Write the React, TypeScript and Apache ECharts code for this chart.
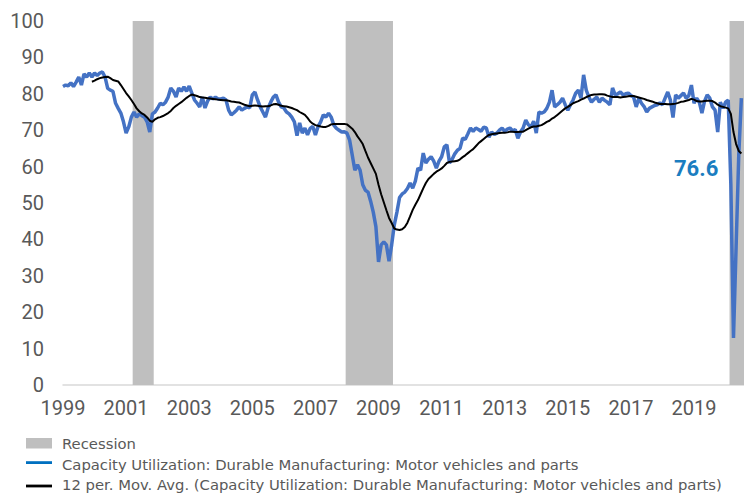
import React, { useEffect, useRef } from "react";
import * as echarts from "echarts";

// Monthly categories Jan 1999 .. Aug 2020
const firstYear = 1999;
const lastYear = 2020;
const lastMonthOfLastYear = 8;

// Capacity Utilization: Durable Manufacturing: Motor vehicles and parts (monthly, one row per year)
const capUtil: (number | null)[] = [
  82.0, 82.4, 82.2, 83.0, 82.0, 83.2, 84.6, 82.4, 85.5, 84.6, 85.7, 84.6, // 1999
  85.7, 85.0, 85.7, 86.0, 84.6, 81.5, 81.0, 80.7, 77.4, 76.0, 74.7, 72.3, // 2000
  69.2, 70.9, 73.6, 75.0, 73.6, 74.5, 74.0, 73.6, 72.3, 69.5, 74.5, 75.0, // 2001
  76.1, 77.4, 77.0, 77.7, 79.1, 81.6, 80.7, 79.1, 81.6, 80.7, 81.9, 80.7, // 2002
  82.1, 80.2, 78.3, 77.4, 76.4, 79.1, 76.1, 78.0, 79.1, 78.6, 79.1, 78.6, // 2003
  78.6, 78.8, 78.3, 75.5, 74.2, 74.8, 75.5, 76.4, 75.5, 76.0, 76.4, 76.1, // 2004
  79.7, 80.5, 78.3, 76.4, 75.0, 73.6, 76.1, 77.7, 79.1, 79.7, 77.7, 76.4, // 2005
  76.1, 75.0, 74.5, 73.6, 72.3, 68.5, 72.0, 69.2, 70.6, 68.7, 70.5, 71.0, // 2006
  68.7, 71.0, 72.3, 74.2, 73.6, 74.7, 73.6, 71.4, 70.5, 70.0, 69.5, 69.6, // 2007
  69.2, 67.3, 63.2, 59.0, 60.5, 59.0, 55.0, 53.5, 53.0, 50.5, 47.5, 43.5, // 2008
  33.8, 38.5, 39.3, 38.5, 34.0, 38.5, 44.0, 47.5, 51.5, 52.5, 53.0, 54.0, // 2009
  55.5, 54.1, 56.0, 59.6, 59.0, 63.7, 61.0, 62.0, 62.7, 61.5, 59.6, 61.5, // 2010
  62.7, 65.4, 66.0, 61.0, 62.0, 63.5, 64.5, 65.0, 67.8, 67.5, 69.0, 70.6, // 2011
  69.7, 70.6, 70.2, 69.7, 70.8, 70.6, 68.1, 69.5, 68.8, 69.2, 70.0, 70.6, // 2012
  69.7, 70.3, 70.6, 69.8, 70.2, 67.8, 69.5, 70.6, 72.8, 71.5, 70.9, 72.5, // 2013
  69.2, 75.0, 74.7, 75.0, 76.0, 77.7, 81.0, 76.4, 77.0, 77.7, 78.8, 77.0, // 2014
  75.5, 77.0, 78.3, 80.2, 81.0, 78.8, 85.2, 81.0, 79.1, 77.7, 78.5, 79.1, // 2015
  77.7, 78.8, 78.2, 77.7, 77.0, 81.6, 79.7, 80.0, 80.5, 79.7, 80.0, 80.2, // 2016
  79.5, 79.1, 76.4, 78.8, 77.4, 76.5, 75.0, 76.0, 76.4, 76.8, 77.0, 77.5, // 2017
  77.0, 78.8, 80.5, 78.3, 73.5, 79.7, 78.8, 79.5, 80.2, 78.8, 79.5, 82.4, // 2018
  77.4, 78.8, 77.7, 74.7, 78.0, 79.7, 78.8, 76.4, 75.5, 69.5, 77.7, 76.0, // 2019
  77.7, 78.3, 55.0, 12.9, 38.0, 63.0, 78.8, null, // 2020
];

// 12 per. Mov. Avg.
const movAvg: (number | null)[] = [
  null, null, null, null, null, null, null, null, null, null, null, 83.3, // 1999
  83.6, 84.0, 84.3, 84.5, 84.6, 84.7, 84.3, 83.8, 83.6, 83.4, 82.4, 81.3, // 2000
  80.2, 79.3, 78.3, 77.2, 76.0, 75.2, 74.6, 74.2, 73.5, 72.6, 72.3, 73.0, // 2001
  73.4, 73.6, 73.9, 74.3, 74.7, 75.3, 76.1, 76.7, 77.2, 77.7, 78.3, 78.9, // 2002
  79.4, 79.8, 79.6, 79.4, 79.1, 79.0, 78.9, 78.8, 78.7, 78.6, 78.5, 78.4, // 2003
  78.3, 78.2, 78.2, 78.1, 77.9, 77.8, 77.7, 77.6, 77.3, 77.0, 76.8, 76.6, // 2004
  76.7, 76.8, 76.7, 76.6, 76.5, 76.6, 76.6, 76.8, 77.1, 77.2, 77.0, 76.7, // 2005
  76.6, 76.5, 76.3, 76.1, 75.8, 75.5, 75.0, 74.6, 74.2, 73.4, 72.4, 71.8, // 2006
  71.4, 71.2, 71.0, 70.9, 70.9, 71.2, 71.6, 71.7, 71.7, 71.7, 71.7, 71.7, // 2007
  71.6, 71.0, 70.4, 69.5, 68.3, 67.3, 66.2, 64.3, 62.5, 61.0, 59.5, 58.0, // 2008
  55.0, 52.4, 50.2, 48.0, 45.9, 44.5, 43.0, 42.7, 42.6, 42.8, 43.4, 44.6, // 2009
  46.3, 48.1, 49.5, 50.8, 52.4, 54.0, 55.5, 56.6, 57.3, 58.0, 58.6, 59.0, // 2010
  59.5, 60.2, 61.0, 61.3, 61.4, 61.5, 61.6, 62.0, 62.6, 63.1, 63.7, 64.3, // 2011
  64.8, 65.6, 66.4, 67.0, 67.6, 68.2, 68.7, 68.9, 69.0, 69.1, 69.2, 69.3, // 2012
  69.3, 69.4, 69.6, 69.6, 69.5, 69.5, 69.6, 69.6, 70.0, 70.4, 70.8, 71.0, // 2013
  71.0, 71.2, 71.4, 71.8, 72.3, 72.6, 73.2, 73.6, 74.2, 74.8, 75.4, 76.0, // 2014
  76.4, 76.9, 77.4, 77.7, 78.0, 78.4, 78.7, 79.1, 79.4, 79.7, 79.8, 79.8, // 2015
  79.9, 79.9, 79.8, 79.5, 79.3, 79.1, 79.1, 79.1, 79.0, 79.1, 79.2, 79.3, // 2016
  79.4, 79.4, 79.2, 79.0, 78.8, 78.6, 78.3, 78.1, 77.9, 77.6, 77.4, 77.2, // 2017
  77.2, 77.2, 77.1, 77.1, 77.2, 77.3, 77.5, 77.8, 77.9, 78.1, 78.3, 78.6, // 2018
  78.4, 78.0, 77.9, 77.9, 78.0, 78.1, 78.1, 78.0, 77.6, 77.0, 76.6, 76.4, // 2019
  76.2, 76.0, 74.5, 69.5, 66.2, 64.3, 63.6, null, // 2020
];

// Recession periods (first and last shaded month)
const recessions: [string, string][] = [
  ["2001-04", "2001-11"],
  ["2008-01", "2009-06"],
  ["2020-03", "2020-08"],
];

const yTicks = { min: 0, max: 100, interval: 10 };
const latestLabel = "76.6";

const legendNames = [
  "Recession",
  "Capacity Utilization: Durable Manufacturing: Motor vehicles and parts",
  "12 per. Mov. Avg. (Capacity Utilization: Durable Manufacturing: Motor vehicles and parts)",
];

const months: string[] = [];
for (let y = firstYear; y <= lastYear; y++) {
  const last = y === lastYear ? lastMonthOfLastYear : 12;
  for (let m = 1; m <= last; m++) months.push(`${y}-${String(m).padStart(2, "0")}`);
}

const FONT = "Roboto, 'DejaVu Sans', sans-serif";
const LEGEND_FONT = "'DejaVu Sans', Roboto, sans-serif";
const GRAY_TEXT = "#595959";
const RECESSION_GRAY = "#bfbfbf";

export default function App() {
  const ref = useRef<HTMLDivElement>(null);
  useEffect(() => {
    document.body.style.margin = "0";
    const chart = echarts.init(ref.current!, null, { renderer: "svg" });
    const legendTextY = [443.5, 464.5, 484.5];
    const legendIcon = [
      { y: 438, h: 10.5 },
      { y: 461.2, h: 2.8 },
      { y: 484.6, h: 2.8 },
    ];
    const legendColors = [RECESSION_GRAY, "#0070c0", "#000000"];
    const legendGraphics: any[] = [];
    legendNames.forEach((name, i) => {
      legendGraphics.push({
        type: "rect",
        shape: { x: 26, y: legendIcon[i].y, width: 26, height: legendIcon[i].h },
        style: { fill: legendColors[i] },
        silent: true,
      });
      legendGraphics.push({
        type: "text",
        x: 62,
        y: legendTextY[i],
        style: {
          text: name,
          fill: GRAY_TEXT,
          font: `14.8px ${LEGEND_FONT}`,
          verticalAlign: "middle",
        },
        silent: true,
      });
    });
    legendGraphics.push({
      type: "text",
      x: 674,
      y: 168,
      style: {
        text: latestLabel,
        fill: "#1a7dc0",
        font: `bold 22px ${FONT}`,
        verticalAlign: "middle",
      },
      silent: true,
    });

    chart.setOption({
      animation: false,
      textStyle: { fontFamily: FONT },
      grid: { left: 63, right: 0, top: 21, height: 364, containLabel: false },
      xAxis: {
        type: "category",
        data: months,
        boundaryGap: false,
        axisLine: { lineStyle: { color: "#d9d9d9", width: 1.5 } },
        axisTick: { show: false },
        splitLine: { show: false },
        axisLabel: {
          interval: (idx: number) => idx % 24 === 0,
          formatter: (v: string) => v.slice(0, 4),
          fontSize: 20,
          color: GRAY_TEXT,
          margin: 13,
          fontFamily: FONT,
        },
      },
      yAxis: {
        type: "value",
        min: yTicks.min,
        max: yTicks.max,
        interval: yTicks.interval,
        axisLine: { show: false },
        axisTick: { show: false },
        splitLine: { show: false },
        axisLabel: { fontSize: 20, color: GRAY_TEXT, margin: 19, fontFamily: FONT },
      },
      series: [
        {
          name: legendNames[0],
          type: "custom",
          data: recessions,
          encode: { x: [0, 1] },
          clip: true,
          silent: true,
          z: 1,
          renderItem: (params: any, api: any) => {
            const start = api.coord([api.value(0), yTicks.min]);
            const end = api.coord([api.value(1), yTicks.max]);
            const band = api.size([1, 0])[0];
            const cs = params.coordSys;
            const x0 = start[0] - band / 2;
            const x1 = Math.min(end[0] + band / 2, cs.x + cs.width);
            return {
              type: "rect",
              shape: { x: x0, y: end[1], width: x1 - x0, height: start[1] - end[1] },
              style: { fill: RECESSION_GRAY },
            };
          },
        },
        {
          name: legendNames[1],
          type: "line",
          data: capUtil,
          showSymbol: false,
          symbol: "none",
          lineStyle: { color: "#4472c4", width: 3.5 },
          itemStyle: { color: "#4472c4" },
          z: 2,
        },
        {
          name: legendNames[2],
          type: "line",
          data: movAvg,
          showSymbol: false,
          symbol: "none",
          lineStyle: { color: "#000000", width: 2 },
          itemStyle: { color: "#000000" },
          z: 3,
        },
      ],
      graphic: legendGraphics,
    });
    return () => chart.dispose();
  }, []);
  return <div ref={ref} style={{ width: 744, height: 495 }} />;
}
